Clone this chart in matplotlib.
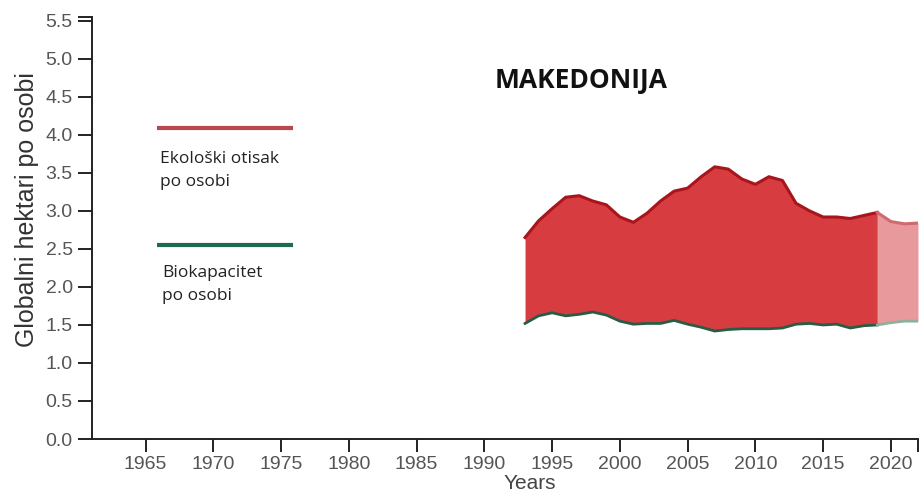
"""
Ekoloski otisak i biokapacitet - Makedonija
"""
from matplotlib.pyplot import figure, rcParams

# years with measured data
years = [1993, 1994, 1995, 1996, 1997, 1998, 1999, 2000, 2001, 2002,
         2003, 2004, 2005, 2006, 2007, 2008, 2009, 2010, 2011, 2012,
         2013, 2014, 2015, 2016, 2017, 2018, 2019]
footprint = [2.65, 2.87, 3.03, 3.18, 3.20, 3.13, 3.08, 2.92, 2.85, 2.97,
             3.13, 3.26, 3.30, 3.45, 3.58, 3.55, 3.42, 3.35, 3.45, 3.40,
             3.10, 3.00, 2.92, 2.92, 2.90, 2.94, 2.98]
biocapacity = [1.52, 1.62, 1.66, 1.62, 1.64, 1.67, 1.63, 1.55, 1.51, 1.52,
               1.52, 1.56, 1.51, 1.47, 1.42, 1.44, 1.45, 1.45, 1.45, 1.46,
               1.51, 1.52, 1.50, 1.51, 1.46, 1.49, 1.50]

# projected (lighter) part
proj_years = [2019, 2020, 2021, 2022]
proj_footprint = [2.98, 2.86, 2.83, 2.84]
proj_biocapacity = [1.50, 1.53, 1.55, 1.55]

xticks = [1965, 1970, 1975, 1980, 1985, 1990, 1995, 2000, 2005, 2010, 2015, 2020]
yticks = [0.0, 0.5, 1.0, 1.5, 2.0, 2.5, 3.0, 3.5, 4.0, 4.5, 5.0, 5.5]


def main():
    """
    main wrapper function
    """
    rcParams["font.family"] = ["Liberation Sans", "DejaVu Sans"]

    fig = figure(figsize=(9.2, 4.97), dpi=100)
    axes = fig.add_axes([0.1003, 0.1167, 0.8975, 0.849])

    # filled band between biocapacity and footprint
    axes.fill_between(years, biocapacity, footprint, color="#d63c40", lw=0)
    axes.fill_between(proj_years, proj_biocapacity, proj_footprint,
                      color="#e8999b", lw=0)
    axes.plot(years, footprint, color="#a8161c", lw=2.2)
    axes.plot(years, biocapacity, color="#275c45", lw=2.0)
    axes.plot(proj_years, proj_footprint, color="#cf6a6e", lw=2.2)
    axes.plot(proj_years, proj_biocapacity, color="#8fb09c", lw=2.0)

    axes.set_xlim(1961.06, 2022)
    axes.set_ylim(0, 5.55)
    axes.set_xticks(xticks)
    axes.set_yticks(yticks)
    axes.set_yticklabels([f"{v:.1f}" for v in yticks])
    axes.set_xticks([2022], minor=True)
    axes.set_yticks([5.55], minor=True)

    for side in ["top", "right"]:
        axes.spines[side].set_visible(False)
    for side in ["left", "bottom"]:
        axes.spines[side].set_linewidth(1.4)
        axes.spines[side].set_color("#222222")

    axes.tick_params(axis="both", which="both", colors="#222222", width=1.4,
                     labelcolor="#555555", labelsize=14)
    axes.tick_params(axis="y", which="both", length=10, pad=4)
    axes.tick_params(axis="x", which="both", length=9, pad=3)

    axes.set_ylabel("Globalni hektari po osobi", fontsize=18, color="#333333")
    axes.yaxis.set_label_coords(-0.0645, 0.543)
    axes.set_xlabel("Years", fontsize=15, color="#444444")
    axes.xaxis.set_label_coords(0.53, -0.084)

    axes.text(0.4875, 0.85, "MAKEDONIJA", transform=axes.transAxes,
              fontsize=19, fontweight="bold", family="Open Sans",
              color="#111111", ha="left", va="center")

    # hand-made legend
    axes.plot([0.0787, 0.243], [0.738, 0.738], transform=axes.transAxes,
              color="#b9474f", lw=3, solid_capstyle="butt")
    axes.text(0.0815, 0.636, "Ekološki otisak\npo osobi", transform=axes.transAxes,
              fontsize=12.5, family="Open Sans", color="#222222",
              ha="left", va="center", linespacing=1.6)
    axes.plot([0.0787, 0.243], [0.46, 0.46], transform=axes.transAxes,
              color="#1f6b52", lw=3, solid_capstyle="butt")
    axes.text(0.085, 0.366, "Biokapacitet\npo osobi", transform=axes.transAxes,
              fontsize=12.5, family="Open Sans", color="#222222",
              ha="left", va="center", linespacing=1.6)

    fig.savefig("out.png", dpi=100)


if __name__ == "__main__":
    main()
